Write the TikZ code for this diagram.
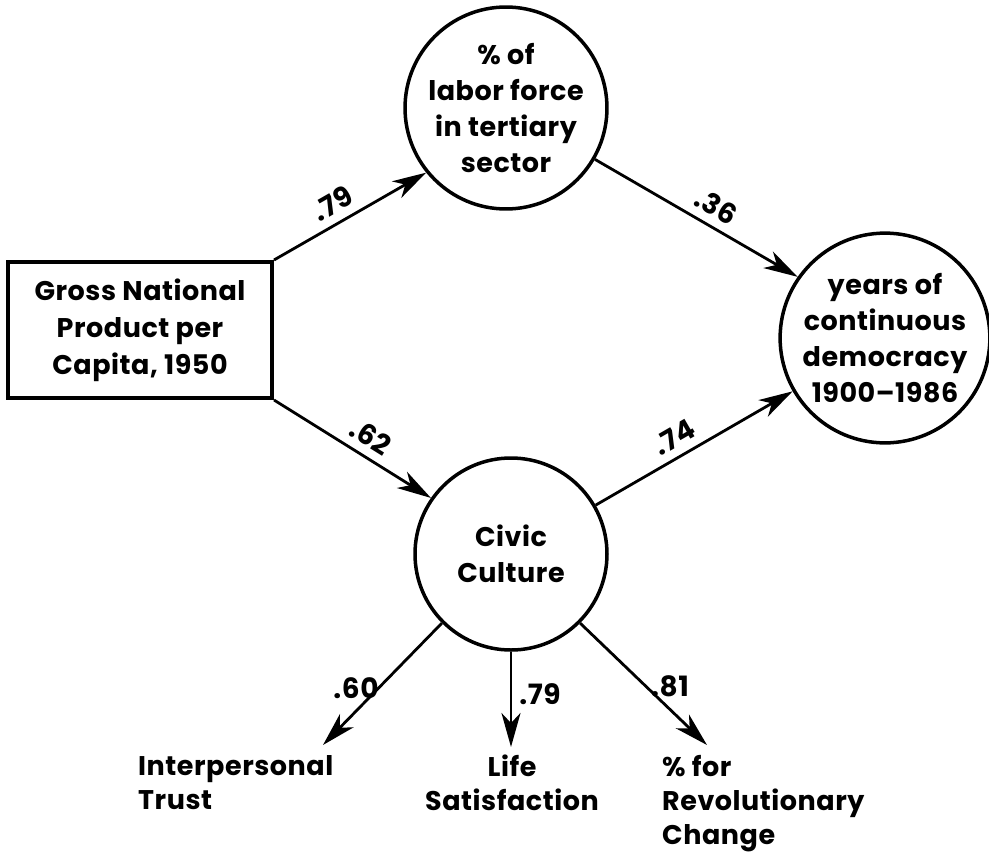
\documentclass[tikz,border=0pt]{standalone}
\usepackage{fontspec}
\setmainfont{Poppins}[LetterSpace=2]
\usetikzlibrary{arrows.meta}
\tikzset{
  circ/.style={circle, draw, line width=3.5pt, minimum size=192pt, inner sep=0pt, align=center, font=\fontsize{27}{36}\selectfont\bfseries},
  boxnode/.style={rectangle, draw, line width=4pt, minimum width=264pt, minimum height=136pt, align=center, font=\fontsize{27}{37}\selectfont\bfseries},
  conn/.style={line width=2.8pt, -{Stealth[length=34pt, width=19pt, inset=10pt]}},
  coef/.style={font=\fontsize{28}{30}\selectfont\bfseries, inner sep=5pt},
  outtext/.style={font=\fontsize{27}{34}\selectfont\bfseries, inner sep=0pt}
}
\begin{document}
\begin{tikzpicture}[x=1pt,y=-1pt]
\useasboundingbox (0,0) rectangle (989,857);
\node[boxnode] (gnp) at (140,330) {Gross National\\Product per\\Capita, 1950};
\node[circ] (tert) at (506,108) {\% of\\labor force\\in tertiary\\sector};
\node[circ] (demo) at (885,338) {years of\\continuous\\democracy\\1900–1986};
\node[circ] (civic) at (511,554) {Civic\\Culture};
\coordinate (tEnd) at (323,745);
\coordinate (lEnd) at (511,747);
\coordinate (rEnd) at (707,745);
\draw[conn] (gnp.north east) -- node[coef, sloped, above=3pt, pos=0.45] {.79} (tert.219);
\draw[conn] (tert.330) -- node[coef, sloped, above=3pt, pos=0.55] {.36} (demo.145);
\draw[conn] (gnp.south east) -- node[coef, sloped, above=3pt, pos=0.55] {.62} (civic.145);
\draw[conn] (civic.30) -- node[coef, sloped, above=3pt, pos=0.45] {.74} (demo.210);
\draw[conn] (civic.225) -- (tEnd);
\draw[conn] (civic.south) -- (lEnd);
\draw[conn] (civic.315) -- (rEnd);
\node[coef] (c60) at (356,688) {.60};
\node[coef] (c79) at (540,694) {.79};
\node[coef] (c81) at (670,686) {.81};
\node[outtext, align=left, anchor=north west] (trust) at (138,755) {Interpersonal\\Trust};
\node[outtext, align=center, anchor=north] (life) at (512,755) {Life\\Satisfaction};
\node[outtext, align=left, anchor=north west] (rev) at (662,755) {\% for\\Revolutionary\\Change};
\end{tikzpicture}
\end{document}
